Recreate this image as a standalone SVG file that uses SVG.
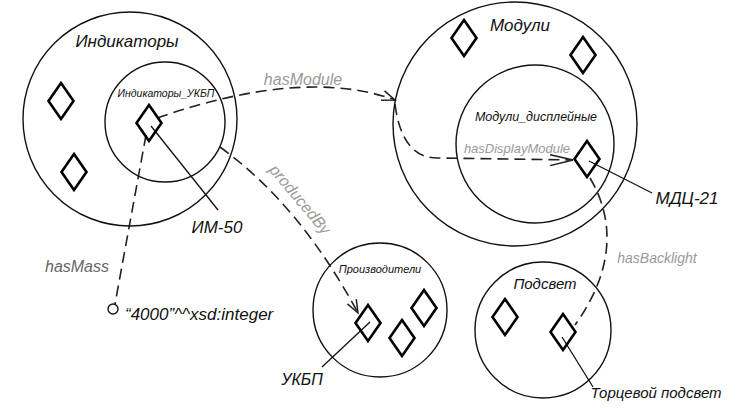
<svg xmlns="http://www.w3.org/2000/svg" width="748" height="408" viewBox="0 0 748 408">
<style>
.c{fill:none;stroke:#111;stroke-width:1.4}
.d{fill:none;stroke:#000;stroke-width:2.6;stroke-linejoin:miter}
.l{fill:none;stroke:#111;stroke-width:1.3}
.k{fill:none;stroke:#222;stroke-width:1.6;stroke-dasharray:11 6}
.t{font-family:"Liberation Sans","DejaVu Sans",sans-serif;font-style:italic;fill:#111}
.g{font-family:"Liberation Sans","DejaVu Sans",sans-serif;font-style:italic;fill:#9a9a9a}
</style>
<defs>
<marker id="arr" viewBox="-14 -6 16 12" refX="0" refY="0" markerWidth="16" markerHeight="12" markerUnits="userSpaceOnUse" orient="auto">
<path d="M-13,-5 L0,0 L-13,5" fill="none" stroke="#222" stroke-width="1.5"/>
</marker>
<marker id="arrL" viewBox="-24 -6 26 12" refX="0" refY="0" markerWidth="26" markerHeight="12" markerUnits="userSpaceOnUse" orient="auto">
<path d="M-23,-5 L0,0 L-23,6" fill="none" stroke="#222" stroke-width="1.5"/>
</marker>
<path id="dm" d="M0,-18 L12.5,0 L0,18 L-12.5,0 Z"/>
</defs>
<rect width="748" height="408" fill="#fff"/>

<g id="connectors">
<path class="k" d="M157,118 Q304,67 395,100" marker-end="url(#arr)"/>
<path class="k" d="M395,104 Q402,160 440,158 L573,160" marker-end="url(#arrL)"/>
<path class="k" d="M220,147 Q300,205 358,313" marker-end="url(#arr)"/>
<path class="k" d="M146,135 L115,304"/>
<path class="k" d="M590,178 C612,215 618,265 575,325"/>
<line class="l" x1="151" y1="126" x2="218" y2="210"/>
<line class="l" x1="589" y1="161" x2="652" y2="193"/>
<line class="l" x1="562" y1="337" x2="593" y2="387"/>
<line class="l" x1="370" y1="322" x2="322" y2="367"/>
<text class="g" x="303" y="85" font-size="16" text-anchor="middle">hasModule</text>
<text class="g" x="517" y="153" font-size="13" text-anchor="middle">hasDisplayModule</text>
<text class="g" x="657" y="263" font-size="14" text-anchor="middle">hasBacklight</text>
<text class="g" x="77" y="272" font-size="16" text-anchor="middle" fill="#666" style="fill:#666">hasMass</text>
<text class="g" font-size="16" text-anchor="middle" transform="translate(296,203) rotate(50)">producedBy</text>
</g>

<g id="node-indikatory">
<circle class="c" cx="130" cy="119" r="107"/>
<text class="t" x="127" y="47" font-size="17" text-anchor="middle">Индикаторы</text>
<use href="#dm" class="d" x="61" y="101"/>
<use href="#dm" class="d" x="74" y="172"/>
</g>

<g id="node-indikatory-ukbp">
<circle class="c" cx="165" cy="122" r="60"/>
<text class="t" x="166" y="97" font-size="10.5" text-anchor="middle">Индикаторы_УКБП</text>
</g>

<g id="node-im50">
<use href="#dm" class="d" x="149" y="123"/>
<text class="t" x="217" y="233" font-size="17" text-anchor="middle">ИМ-50</text>
</g>

<g id="node-literal">
<circle cx="113" cy="309" r="5" fill="#fff" stroke="#111" stroke-width="1.4"/>
<text class="t" x="125" y="320" font-size="17">“4000”^^xsd:integer</text>
</g>

<g id="node-moduli">
<circle class="c" cx="515" cy="124" r="122"/>
<text class="t" x="520" y="31" font-size="17" text-anchor="middle">Модули</text>
<use href="#dm" class="d" x="464" y="38"/>
<use href="#dm" class="d" x="583" y="55"/>
</g>

<g id="node-moduli-display">
<circle class="c" cx="535" cy="144" r="79"/>
<text class="t" x="536" y="121" font-size="12.5" text-anchor="middle">Модули_дисплейные</text>
</g>

<g id="node-mdc21">
<use href="#dm" class="d" x="587" y="159"/>
<text class="t" x="687" y="204" font-size="17" text-anchor="middle">МДЦ-21</text>
</g>

<g id="node-proizvoditeli">
<circle class="c" cx="380" cy="310" r="67"/>
<text class="t" x="380" y="273" font-size="11" text-anchor="middle">Производители</text>
<use href="#dm" class="d" x="424" y="308"/>
<use href="#dm" class="d" x="402" y="338"/>
</g>

<g id="node-ukbp">
<use href="#dm" class="d" x="368" y="323"/>
<text class="t" x="302" y="385" font-size="16" text-anchor="middle">УКБП</text>
</g>

<g id="node-podsvet">
<circle class="c" cx="543" cy="330" r="68"/>
<text class="t" x="545" y="289" font-size="15" text-anchor="middle">Подсвет</text>
<use href="#dm" class="d" x="505" y="317"/>
</g>

<g id="node-torcevoy">
<use href="#dm" class="d" x="563" y="332"/>
<text class="t" x="656" y="398" font-size="15" text-anchor="middle">Торцевой подсвет</text>
</g>
</svg>
